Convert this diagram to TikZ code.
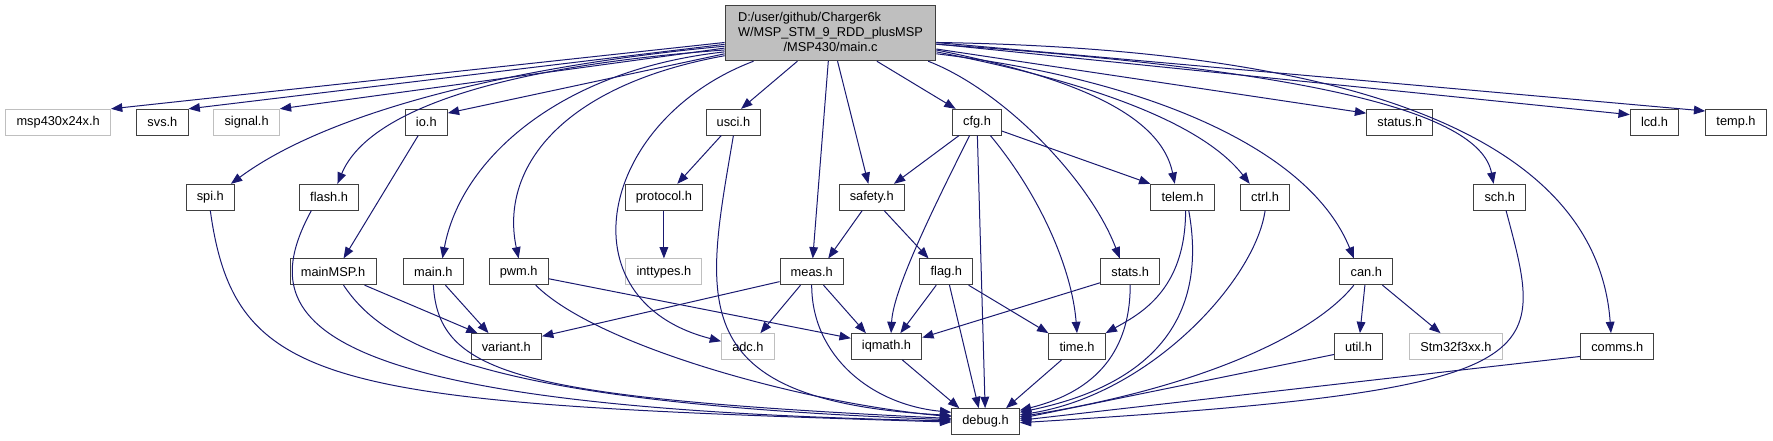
\documentclass[tikz,border=0pt]{standalone}
\usepackage{fontspec}
\setmainfont{Liberation Sans}
\usetikzlibrary{arrows.meta}
\definecolor{depblue}{HTML}{191970}
\definecolor{rootgray}{HTML}{BFBFBF}
\definecolor{boxedge}{HTML}{404040}

\begin{document}
\begin{tikzpicture}[
  x=0.75pt, y=-0.75pt,
  font=\fontsize{9.6}{11.25}\selectfont,
  hdr/.style={draw=boxedge, line width=0.75pt, fill=white, inner xsep=8pt,
              inner ysep=0pt, minimum height=19.3pt},
  sys/.style={hdr, draw=rootgray},
  root/.style={hdr, fill=rootgray, minimum width=158pt, minimum height=41.25pt},
  dep/.style={-{Triangle[length=8.5pt,width=6.5pt]}, depblue, line width=0.75pt}
]
\useasboundingbox (0,0) rectangle (1773,440);

% ---------- source file ----------
\node[root] (mainc) at (830.5,33.2) {\begin{tabular}{@{}l@{}}D:/user/github/Charger6k\\
  W/MSP\_STM\_9\_RDD\_plusMSP\\\multicolumn{1}{@{}c@{}}{/MSP430/main.c}\end{tabular}};

% ---------- headers, rank by rank ----------
\node[sys] (msp)    at (58.2,122.2)  {msp430x24x.h};
\node[hdr] (svs)    at (162.4,122.2) {svs.h};
\node[sys] (signal) at (246.6,122.2) {signal.h};
\node[hdr] (io)     at (426.3,122.2) {io.h};
\node[hdr] (usci)   at (733.4,122.2) {usci.h};
\node[hdr] (cfg)    at (977,122.2)   {cfg.h};
\node[hdr] (status) at (1399.8,122.2) {status.h};
\node[hdr] (lcd)    at (1654.5,122.2) {lcd.h};
\node[hdr] (temp)   at (1736,122.2)  {temp.h};

\node[hdr] (spi)      at (210.3,197.2)  {spi.h};
\node[hdr] (flash)    at (329.1,197.2)  {flash.h};
\node[hdr] (protocol) at (663.9,197.2)  {protocol.h};
\node[hdr] (safety)   at (871.7,197.2)  {safety.h};
\node[hdr] (telem)    at (1182.5,197.2) {telem.h};
\node[hdr] (ctrl)     at (1265.1,197.2) {ctrl.h};
\node[hdr] (sch)      at (1499.8,197.2) {sch.h};

\node[hdr] (mainmsp)  at (333.1,271.8)  {mainMSP.h};
\node[hdr] (mainh)    at (433.4,271.8)  {main.h};
\node[hdr] (pwm)      at (518.6,271.8)  {pwm.h};
\node[sys] (inttypes) at (663.9,271.8)  {inttypes.h};
\node[hdr] (meas)     at (811.7,271.8)  {meas.h};
\node[hdr] (flag)     at (946.3,271.8)  {flag.h};
\node[hdr] (stats)    at (1130.2,271.8) {stats.h};
\node[hdr] (can)      at (1366.3,271.8) {can.h};

\node[hdr] (variant) at (506.3,346.5)  {variant.h};
\node[sys] (adc)     at (747.9,346.5)  {adc.h};
\node[hdr] (iqmath)  at (886.5,346.5)  {iqmath.h};
\node[hdr] (time)    at (1077,346.5)   {time.h};
\node[hdr] (util)    at (1358.5,346.5) {util.h};
\node[sys] (stm)     at (1455.9,346.5) {Stm32f3xx.h};
\node[hdr] (comms)   at (1617.2,346.5) {comms.h};

\node[hdr] (debug) at (985.5,421.5) {debug.h};

% ---------- includes of main.c ----------
\draw[dep] (mainc.185) -- (msp.north east);
\draw[dep] (mainc.186) -- (svs.north east);
\draw[dep] (mainc.188) -- (signal.north east);
\draw[dep] (mainc.191) -- (io.23);
\draw[dep] (mainc.187) .. controls +(-205,19) and +(100,-74) .. (spi.33);
\draw[dep] (mainc.189) .. controls +(-205,15) and +(33,-79) .. (flash.58);
\draw[dep] (mainc.190) .. controls +(-165,18) and +(18,-99) .. (mainh.56);
\draw[dep] (mainc.192) .. controls +(-165,30) and +(-19,-89) .. (pwm.north);
\draw[dep] (mainc.200) .. controls +(-155,59) and +(-160,-41) .. (adc.169);
\draw[dep] (mainc) -- (usci.60);
\draw[dep] (mainc) -- (meas);
\draw[dep] (mainc) -- (safety);
\draw[dep] (mainc) -- (cfg.148);
\draw[dep] (mainc.344) .. controls +(75,29) and +(-30,-79) .. (stats.128);
\draw[dep] (mainc.351) .. controls +(124,25) and +(-15,-74) .. (telem.120);
\draw[dep] (mainc.350) .. controls +(144,28) and +(-50,-64) .. (ctrl.139);
\draw[dep] (mainc.349) .. controls +(214,26) and +(-44,-109) .. (can.133);
\draw[dep] (mainc) -- (status.165);
\draw[dep] (mainc.354) .. controls +(364,25) and +(-14,-74) .. (sch.115);
\draw[dep] (mainc) -- (lcd.163);
\draw[dep] (mainc) -- (temp.160);
\draw[dep] (mainc.355) .. controls +(514,8) and +(-11,-154) .. (comms.115);

% ---------- second rank ----------
\draw[dep] (io) -- (mainmsp.52);
\draw[dep] (usci) -- (protocol.45);
\draw[dep] (usci.south) .. controls +(-28,165) and +(-271,-15) .. (debug.170);
\draw[dep] (cfg) -- (safety.31);
\draw[dep] (cfg) -- (telem.north west);
\draw[dep] (cfg.241) .. controls +(-35,70) and +(2,-44) .. (iqmath.71);
\draw[dep] (cfg.315) .. controls +(50,60) and +(-5,-64) .. (time.north);
\draw[dep] (cfg) -- (debug);

% ---------- third rank ----------
\draw[dep] (protocol) -- (inttypes);
\draw[dep] (safety) -- (meas.39);
\draw[dep] (safety) -- (flag.143);
\draw[dep] (spi.south) .. controls +(25,180) and +(-621,-19) .. (debug.181);
\draw[dep] (flash.217) .. controls +(-60,110) and +(-651,-13) .. (debug.179);
\draw[dep] (telem.283) .. controls +(0,80) and +(34,-19) .. (time.north east);
\draw[dep] (telem.295) .. controls +(20,110) and +(130,-27) .. (debug.15);
\draw[dep] (ctrl.south) .. controls +(-10,70) and +(130,-20) .. (debug.11);
\draw[dep] (sch.295) .. controls +(40,150) and +(540,-33) .. (debug.358);

% ---------- fourth rank ----------
\draw[dep] (mainmsp) -- (variant.155);
\draw[dep] (mainmsp.308) .. controls +(40,60) and +(-471,-17) .. (debug.177);
\draw[dep] (mainh) -- (variant.143);
\draw[dep] (mainh.south) .. controls +(5,90) and +(-431,-21) .. (debug.175);
\draw[dep] (pwm.347) -- (iqmath.167);
\draw[dep] (pwm.322) .. controls +(60,60) and +(-151,-14) .. (debug.172);
\draw[dep] (meas.197) -- (variant.16);
\draw[dep] (meas) -- (adc.47);
\draw[dep] (meas) -- (iqmath.147);
\draw[dep] (meas.south) .. controls +(0,70) and +(-81,-8) .. (debug.165);
\draw[dep] (flag) -- (iqmath.44);
\draw[dep] (flag) -- (time.north west);
\draw[dep] (flag) -- (debug.117);
\draw[dep] (stats.200) -- (iqmath.14);
\draw[dep] (stats.south) .. controls +(0,80) and +(60,-15) .. (debug.18);
\draw[dep] (can) -- (util);
\draw[dep] (can) -- (stm.139);
\draw[dep] (can.227) .. controls +(-40,50) and +(180,-29) .. (debug.8);

% ---------- fifth rank ----------
\draw[dep] (iqmath) -- (debug.153);
\draw[dep] (time) -- (debug.33);
\draw[dep] (util.198) -- (debug.5);
\draw[dep] (comms.195) -- (debug.2);

\end{tikzpicture}
\end{document}
